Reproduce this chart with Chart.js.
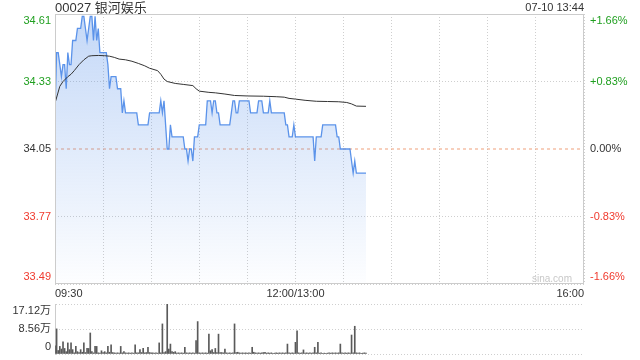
<!DOCTYPE html>
<html><head><meta charset="utf-8">
<script src="https://cdn.jsdelivr.net/npm/chart.js@4"></script>
<style>
html,body{margin:0;padding:0;background:#fff;}
#wrap{position:relative;width:640px;height:360px;overflow:hidden;font-family:'Liberation Sans','Noto Sans CJK SC',sans-serif;}
#title{position:absolute;left:55px;top:0;font-size:13px;line-height:15px;color:#333;white-space:nowrap;}
#time{position:absolute;right:56px;top:1px;font-size:11px;line-height:13px;color:#333;white-space:nowrap;}
#wm{position:absolute;left:532px;top:273px;font-size:10px;line-height:12px;color:#c8c8c8;}
canvas{position:absolute;left:0;}
</style></head>
<body><div id="wrap">
<canvas id="main" width="640" height="300" style="top:0"></canvas>
<canvas id="vol" width="640" height="60" style="top:300px"></canvas>
<div id="title">00027 银河娱乐</div>
<div id="time">07-10 13:44</div>
<div id="wm">sina.com</div>
</div>
<script>
// ---- data ----
const prevClose = 34.05;
const priceTicks = [33.49, 33.77, 34.05, 34.33, 34.61];
const pctLabels = ['-1.66%', '-0.83%', '0.00%', '+0.83%', '+1.66%'];
const timeTickMinutes = [0, 150, 330];
const timeTickLabels = ['09:30', '12:00/13:00', '16:00'];
const volTicks = [0, 8.56, 17.12];
const volTickLabels = ['0', '8.56万', '17.12万'];

// one price per minute from 09:30 (minute 0) to 13:44 (minute 194, lunch removed)
const prices = [
  34.20, 34.45, 34.45, 34.40, 34.35, 34.40, 34.40, 34.30, 34.45, 34.40,
  34.40, 34.50, 34.50, 34.50, 34.55, 34.55, 34.55, 34.60, 34.60, 34.55,
  34.50, 34.55, 34.60, 34.60, 34.50, 34.60, 34.50, 34.55, 34.45, 34.45,
  34.45, 34.45, 34.45, 34.40, 34.30, 34.35, 34.35, 34.35, 34.35, 34.30,
  34.30, 34.30, 34.20, 34.25, 34.20, 34.20, 34.20, 34.20, 34.20, 34.20,
  34.20, 34.20, 34.15, 34.15, 34.15, 34.15, 34.15, 34.15, 34.15, 34.20,
  34.20, 34.20, 34.20, 34.20, 34.20, 34.20, 34.25, 34.20, 34.25, 34.15,
  34.05, 34.05, 34.15, 34.10, 34.10, 34.10, 34.10, 34.10, 34.10, 34.10,
  34.10, 34.05, 34.05, 34.00, 34.05, 34.05, 34.00, 34.10, 34.10, 34.10,
  34.15, 34.15, 34.15, 34.15, 34.15, 34.25, 34.25, 34.25, 34.20, 34.25,
  34.25, 34.20, 34.20, 34.15, 34.15, 34.15, 34.15, 34.15, 34.15, 34.15,
  34.20, 34.25, 34.25, 34.20, 34.20, 34.25, 34.25, 34.25, 34.25, 34.25,
  34.25, 34.25, 34.20, 34.20, 34.20, 34.20, 34.20, 34.25, 34.25, 34.25,
  34.20, 34.20, 34.20, 34.20, 34.25, 34.20, 34.20, 34.20, 34.20, 34.20,
  34.20, 34.20, 34.20, 34.20, 34.15, 34.15, 34.10, 34.10, 34.10, 34.15,
  34.10, 34.10, 34.10, 34.10, 34.10, 34.10, 34.10, 34.10, 34.10, 34.10,
  34.10, 34.10, 34.00, 34.10, 34.10, 34.10, 34.10, 34.15, 34.15, 34.15,
  34.15, 34.15, 34.15, 34.15, 34.15, 34.15, 34.10, 34.10, 34.05, 34.05,
  34.05, 34.05, 34.05, 34.05, 34.05, 34.00, 33.95, 34.00, 33.95, 33.95,
  33.95, 33.95, 33.95, 33.95, 33.95
];

// average price line, read at these minutes
const avgMinutes = [0,3,5,8,10,12,15,18,21,23,27,31,34,37,40,44,48,52,56,59,64,66,68,70,75,80,86,88,90,96,100,106,112,120,130,138,143,146,150,156,163,170,177,182,185,188,194];
const avgValues = [34.24,34.31,34.33,34.35,34.36,34.375,34.40,34.42,34.435,34.437,34.438,34.437,34.435,34.43,34.423,34.42,34.414,34.405,34.395,34.385,34.375,34.36,34.34,34.33,34.322,34.318,34.313,34.30,34.29,34.285,34.283,34.278,34.272,34.27,34.269,34.267,34.265,34.26,34.257,34.252,34.248,34.247,34.246,34.243,34.237,34.228,34.227];

// volume per minute (万)
const volumes = [
  2.8, 8.6, 1.2, 2.6, 1.7, 4.2, 1.9, 0.8, 3.8, 1.5,
  3.8, 1.5, 0.4, 2.6, 0.8, 0.5, 1.5, 0.6, 3.8, 0.5,
  1.9, 1.9, 7.2, 0.8, 0.4, 2.6, 2.6, 0.4, 0.3, 1.1,
  0.5, 0.8, 0.4, 2.6, 0.6, 3.1, 0.5, 0.4, 0.3, 0.4,
  0.3, 2.6, 0.4, 0.8, 0.4, 0.3, 0.4, 0.3, 0.4, 0.3,
  3.1, 0.4, 0.4, 1.5, 0.5, 1.9, 0.4, 0.5, 2.3, 0.5,
  0.4, 0.4, 0.3, 0.4, 0.3, 3.8, 0.4, 10.3, 0.5, 0.8,
  17.1, 1.7, 3.4, 0.8, 0.6, 0.8, 0.3, 0.4, 0.3, 0.4,
  0.3, 2.3, 0.4, 0.3, 0.4, 0.3, 0.4, 0.3, 4.6, 11.1,
  0.4, 0.3, 0.4, 0.3, 0.4, 0.3, 6.8, 1.1, 1.5, 0.5,
  1.9, 0.5, 6.8, 0.5, 0.5, 0.4, 1.7, 0.4, 0.3, 0.4,
  0.3, 0.4, 10.3, 0.5, 0.6, 0.4, 0.3, 0.4, 0.3, 0.4,
  0.3, 0.4, 0.3, 2.3, 0.6, 0.4, 0.3, 0.4, 0.3, 0.4,
  0.5, 0.6, 0.3, 0.4, 0.3, 0.4, 0.2, 0.3, 0.4, 0.3,
  0.4, 0.3, 0.4, 0.3, 0.4, 3.4, 0.4, 0.3, 0.4, 0.3,
  4.0, 7.9, 0.4, 0.3, 0.4, 1.4, 0.3, 0.4, 0.3, 0.4,
  0.3, 0.4, 2.3, 0.4, 4.0, 0.3, 0.4, 0.2, 0.3, 0.2,
  0.3, 0.4, 0.3, 0.4, 0.3, 0.4, 0.3, 0.4, 3.4, 0.4,
  0.3, 0.4, 0.3, 0.4, 0.3, 6.5, 0.4, 9.5, 0.4, 0.3,
  0.4, 0.2, 0.3, 0.4, 0.3
];

// ---- styles ----
const FONT = {family: "'Liberation Sans','Noto Sans CJK SC',sans-serif", size: 11};
const GRID = '#cfcfcf';
const UP = '#1f9f1f', DOWN = '#f03a2e', FLAT = '#333333';
const tickColor = v => v > prevClose + 1e-9 ? UP : (v < prevClose - 1e-9 ? DOWN : FLAT);
const edgeLabel = (text, i, n) => i === n - 1 ? ['', text] : (i === 0 ? [text, ''] : text);
const fitV = w => s => { s.width = w; s.paddingTop = 0; s.paddingBottom = 0; };

const frame = {
  id: 'frame',
  afterDatasetsDraw(chart) {
    const a = chart.chartArea, ctx = chart.ctx;
    ctx.save();
    ctx.strokeStyle = '#cccccc';
    ctx.lineWidth = 1;
    ctx.strokeRect(Math.round(a.left) + 0.5, Math.round(a.top) + 0.5,
                   Math.round(a.right) - Math.round(a.left) - 1, Math.round(a.bottom) - Math.round(a.top) - 1);
    ctx.restore();
  }
};

new Chart(document.getElementById('main'), {
  type: 'line',
  data: {
    datasets: [
      {
        data: avgMinutes.map((m, i) => ({x: m, y: avgValues[i]})),
        borderColor: '#333333', borderWidth: 1, pointRadius: 0, fill: false, tension: 0, order: 1
      },
      {
        data: prices.map((p, i) => ({x: i, y: p})),
        borderColor: '#5b93ea', borderWidth: 1.3, pointRadius: 0, tension: 0, order: 2,
        fill: 'start',
        backgroundColor: c => {
          const a = c.chart.chartArea;
          if (!a) return 'rgba(91,147,234,0.2)';
          const g = c.chart.ctx.createLinearGradient(0, a.top, 0, a.bottom);
          g.addColorStop(0, 'rgba(91,147,234,0.36)');
          g.addColorStop(1, 'rgba(91,147,234,0.01)');
          return g;
        }
      },
      {
        data: [{x: 0, y: prevClose}, {x: 330, y: prevClose}],
        borderColor: '#f0a07a', borderWidth: 1, borderDash: [3, 3], pointRadius: 0, fill: false, order: 3
      }
    ]
  },
  options: {
    responsive: false, animation: false, devicePixelRatio: 1,
    layout: {padding: {top: 14, left: 0, right: 0, bottom: 0}},
    plugins: {legend: {display: false}, tooltip: {enabled: false}},
    scales: {
      x: {
        type: 'linear', min: 0, max: 330,
        afterFit: s => { s.height = 16; s.paddingLeft = 0; s.paddingRight = 0; },
        ticks: {
          stepSize: 30, autoSkip: false, maxRotation: 0, align: 'inner', padding: 3,
          color: FLAT, font: FONT,
          callback: v => { const k = timeTickMinutes.indexOf(v); return k >= 0 ? timeTickLabels[k] : ''; }
        },
        grid: {color: GRID, drawTicks: false},
        border: {display: false, dash: [1, 2]}
      },
      y: {
        position: 'left', min: priceTicks[0], max: priceTicks[priceTicks.length - 1],
        afterBuildTicks: s => { s.ticks = priceTicks.map(v => ({value: v})); },
        afterFit: fitV(55),
        ticks: {
          padding: 4, font: FONT, autoSkip: false,
          color: c => tickColor(c.tick.value),
          callback: (v, i) => edgeLabel(priceTicks[i].toFixed(2), i, priceTicks.length)
        },
        grid: {drawTicks: false, color: c => (c.tick && Math.abs(c.tick.value - prevClose) < 1e-6) ? 'rgba(0,0,0,0)' : GRID},
        border: {display: false, dash: [1, 2]}
      },
      y2: {
        position: 'right', min: priceTicks[0], max: priceTicks[priceTicks.length - 1],
        afterBuildTicks: s => { s.ticks = priceTicks.map(v => ({value: v})); },
        afterFit: fitV(56),
        ticks: {
          padding: 6, font: FONT, autoSkip: false,
          color: c => tickColor(c.tick.value),
          callback: (v, i) => edgeLabel(pctLabels[i], i, pctLabels.length)
        },
        grid: {display: false, drawTicks: false},
        border: {display: false}
      }
    }
  },
  plugins: [frame]
});

new Chart(document.getElementById('vol'), {
  type: 'bar',
  data: {
    datasets: [{
      data: volumes.map((v, i) => ({x: i, y: v})),
      backgroundColor: '#5a5a5a', barThickness: 1, borderWidth: 0
    }]
  },
  options: {
    responsive: false, animation: false, devicePixelRatio: 1,
    layout: {padding: {top: 4, bottom: 6, left: 0, right: 56}},
    plugins: {legend: {display: false}, tooltip: {enabled: false}},
    scales: {
      x: {type: 'linear', min: 0, max: 330, offset: false, display: false, grid: {offset: false}},
      y: {
        position: 'left', min: 0, max: volTicks[volTicks.length - 1],
        afterBuildTicks: s => { s.ticks = volTicks.map(v => ({value: v})); },
        afterFit: fitV(55),
        ticks: {
          padding: 4, font: FONT, color: FLAT, autoSkip: false,
          callback: (v, i) => edgeLabel(volTickLabels[i], i, volTickLabels.length)
        },
        grid: {drawTicks: false, color: GRID},
        border: {display: true, color: '#cccccc', dash: [1, 2]}
      }
    }
  }
});
</script>
</body></html>
